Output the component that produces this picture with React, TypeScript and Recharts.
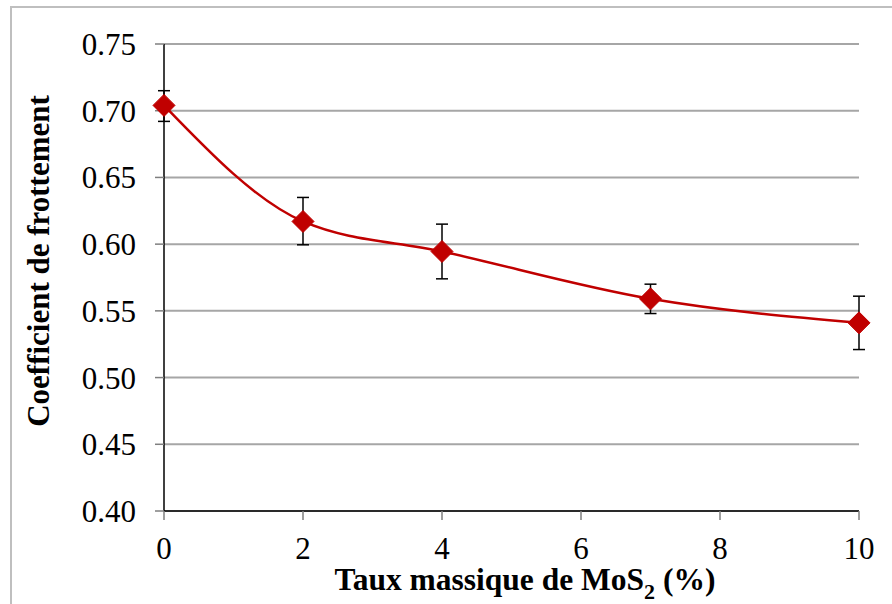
import React from "react";
import {
  LineChart,
  Line,
  XAxis,
  YAxis,
  CartesianGrid,
  ErrorBar,
} from "recharts";

const massRates = [0, 2, 4, 7, 10];
const frictionCoeff = [0.704, 0.617, 0.5945, 0.559, 0.541];
const errMinus = [0.012, 0.0175, 0.0205, 0.011, 0.02];
const errPlus = [0.011, 0.018, 0.0205, 0.011, 0.02];

const xTicks = [0, 2, 4, 6, 8, 10];
const yTicks = [0.4, 0.45, 0.5, 0.55, 0.6, 0.65, 0.7, 0.75];

const data = massRates.map((x, i) => ({
  x,
  y: frictionCoeff[i],
  err: [errMinus[i], errPlus[i]],
}));

const FONT = "Liberation Serif, Times New Roman, Times, serif";

const Diamond = (props: any) => {
  const { cx, cy, index } = props;
  if (cx == null || cy == null) return <g key={index} />;
  const r = 11;
  return (
    <path
      key={index}
      d={`M${cx},${cy - r} L${cx + r},${cy} L${cx},${cy + r} L${cx - r},${cy} Z`}
      fill="#C00000"
      stroke="#C00000"
      strokeWidth={1}
    />
  );
};

const xTitle = () => (
  <text
    x={525}
    y={590}
    textAnchor="middle"
    style={{ fontFamily: FONT, fontWeight: "bold", fontSize: 31.5 }}
    fill="#000"
  >
    Taux massique de MoS
    <tspan style={{ fontSize: 22 }} dy={9}>2</tspan>
    <tspan dy={-9}> (%)</tspan>
  </text>
);

const yTitle = () => (
  <text
    x={49}
    y={261}
    transform="rotate(-90, 49, 261)"
    textAnchor="middle"
    style={{ fontFamily: FONT, fontWeight: "bold", fontSize: 31 }}
    fill="#000"
  >
    Coefficient de frottement
  </text>
);

export default function App() {
  return (
    <div
      style={{
        position: "absolute",
        left: 0,
        top: 0,
        width: 892,
        height: 604,
        overflow: "hidden",
        background: "#fff",
        fontFamily: FONT,
      }}
    >
      <div
        style={{
          position: "absolute",
          left: 10,
          top: 6,
          width: 900,
          height: 620,
          borderLeft: "2px solid #bfbfbf",
          borderTop: "2px solid #bfbfbf",
        }}
      />
      <LineChart
        width={892}
        height={604}
        data={data}
        margin={{ top: 44, right: 33, left: 0, bottom: 0 }}
        style={{ position: "absolute", left: 0, top: 0, fontFamily: FONT }}
      >
        <CartesianGrid
          horizontal
          vertical={false}
          stroke="#a6a6a6"
          strokeWidth={2}
        />
        <XAxis
          dataKey="x"
          type="number"
          domain={[0, 10]}
          ticks={xTicks}
          height={93}
          tickSize={9}
          tickMargin={17}
          axisLine={{ stroke: "#000", strokeWidth: 1.5 }}
          tickLine={{ stroke: "#7f7f7f", strokeWidth: 1.5 }}
          tick={{ fill: "#000", fontSize: 31, style: { fontFamily: FONT } }}
          label={xTitle}
        />
        <YAxis
          type="number"
          domain={[0.4, 0.75]}
          ticks={yTicks}
          width={164}
          tickSize={9}
          tickMargin={19}
          tickFormatter={(v: number) => v.toFixed(2)}
          axisLine={{ stroke: "#000", strokeWidth: 1.5 }}
          tickLine={{ stroke: "#7f7f7f", strokeWidth: 1.5 }}
          tick={{ fill: "#000", fontSize: 31, style: { fontFamily: FONT } }}
          label={yTitle}
        />
        <Line
          dataKey="y"
          type="monotone"
          stroke="#C00000"
          strokeWidth={2.5}
          dot={Diamond}
          activeDot={false}
          isAnimationActive={false}
        >
          <ErrorBar
            dataKey="err"
            direction="y"
            width={6}
            stroke="#000"
            strokeWidth={1.5}
            isAnimationActive={false}
          />
        </Line>
      </LineChart>
    </div>
  );
}
